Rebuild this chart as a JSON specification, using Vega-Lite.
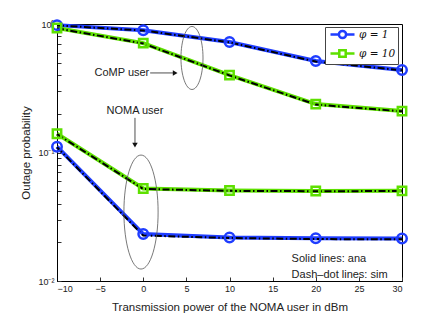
{
  "$schema": "https://vega.github.io/schema/vega-lite/v6.json",
  "width": 345,
  "height": 257,
  "autosize": {"type": "none"},
  "padding": {"left": 57, "top": 24, "right": 41, "bottom": 36},
  "background": "white",
  "config": {
    "view": {"stroke": "black", "strokeWidth": 1},
    "font": "Liberation Sans",
    "axis": {"grid": false, "domainColor": "black", "tickColor": "#333", "labelColor": "#222", "titleColor": "#222", "titleFontWeight": "normal", "labelFontSize": 9, "titleFontSize": 11.5, "tickSize": -4, "labelPadding": 7},
    "legend": {"title": null, "orient": "none", "legendX": 268, "legendY": 3, "fillColor": "white", "strokeColor": "#444", "padding": 2, "rowPadding": 1,
      "labelFont": "DejaVu Serif", "labelFontSize": 10.5, "labelColor": "#111", "labelFontStyle": "italic", "symbolSize": 64, "symbolStrokeWidth": 2.5,
      "symbolOffset": 10, "labelOffset": 11, "symbolFillColor": "transparent"}
  },
  "datasets": {
    "curves": [
      {"x": -10, "y": 0.98, "series": "phi1", "user": "CoMP", "kind": "ana"},
      {"x": 0, "y": 0.895, "series": "phi1", "user": "CoMP", "kind": "ana"},
      {"x": 10, "y": 0.725, "series": "phi1", "user": "CoMP", "kind": "ana"},
      {"x": 20, "y": 0.515, "series": "phi1", "user": "CoMP", "kind": "ana"},
      {"x": 30, "y": 0.438, "series": "phi1", "user": "CoMP", "kind": "ana"},
      {"x": -10, "y": 0.93, "series": "phi10", "user": "CoMP", "kind": "ana"},
      {"x": 0, "y": 0.71, "series": "phi10", "user": "CoMP", "kind": "ana"},
      {"x": 10, "y": 0.40, "series": "phi10", "user": "CoMP", "kind": "ana"},
      {"x": 20, "y": 0.238, "series": "phi10", "user": "CoMP", "kind": "ana"},
      {"x": 30, "y": 0.21, "series": "phi10", "user": "CoMP", "kind": "ana"},
      {"x": -10, "y": 0.111, "series": "phi1", "user": "NOMA", "kind": "ana"},
      {"x": 0, "y": 0.0232, "series": "phi1", "user": "NOMA", "kind": "ana"},
      {"x": 10, "y": 0.0218, "series": "phi1", "user": "NOMA", "kind": "ana"},
      {"x": 20, "y": 0.0215, "series": "phi1", "user": "NOMA", "kind": "ana"},
      {"x": 30, "y": 0.0214, "series": "phi1", "user": "NOMA", "kind": "ana"},
      {"x": -10, "y": 0.140, "series": "phi10", "user": "NOMA", "kind": "ana"},
      {"x": 0, "y": 0.0525, "series": "phi10", "user": "NOMA", "kind": "ana"},
      {"x": 10, "y": 0.0506, "series": "phi10", "user": "NOMA", "kind": "ana"},
      {"x": 20, "y": 0.0502, "series": "phi10", "user": "NOMA", "kind": "ana"},
      {"x": 30, "y": 0.0503, "series": "phi10", "user": "NOMA", "kind": "ana"},
      {"x": -10, "y": 0.975, "series": "phi1", "user": "CoMP", "kind": "sim"},
      {"x": 0, "y": 0.89, "series": "phi1", "user": "CoMP", "kind": "sim"},
      {"x": 10, "y": 0.72, "series": "phi1", "user": "CoMP", "kind": "sim"},
      {"x": 20, "y": 0.51, "series": "phi1", "user": "CoMP", "kind": "sim"},
      {"x": 30, "y": 0.436, "series": "phi1", "user": "CoMP", "kind": "sim"},
      {"x": -10, "y": 0.925, "series": "phi10", "user": "CoMP", "kind": "sim"},
      {"x": 0, "y": 0.705, "series": "phi10", "user": "CoMP", "kind": "sim"},
      {"x": 10, "y": 0.398, "series": "phi10", "user": "CoMP", "kind": "sim"},
      {"x": 20, "y": 0.236, "series": "phi10", "user": "CoMP", "kind": "sim"},
      {"x": 30, "y": 0.209, "series": "phi10", "user": "CoMP", "kind": "sim"},
      {"x": -10, "y": 0.110, "series": "phi1", "user": "NOMA", "kind": "sim"},
      {"x": 0, "y": 0.0226, "series": "phi1", "user": "NOMA", "kind": "sim"},
      {"x": 10, "y": 0.0216, "series": "phi1", "user": "NOMA", "kind": "sim"},
      {"x": 20, "y": 0.0212, "series": "phi1", "user": "NOMA", "kind": "sim"},
      {"x": 30, "y": 0.0211, "series": "phi1", "user": "NOMA", "kind": "sim"},
      {"x": -10, "y": 0.139, "series": "phi10", "user": "NOMA", "kind": "sim"},
      {"x": 0, "y": 0.0520, "series": "phi10", "user": "NOMA", "kind": "sim"},
      {"x": 10, "y": 0.0503, "series": "phi10", "user": "NOMA", "kind": "sim"},
      {"x": 20, "y": 0.0500, "series": "phi10", "user": "NOMA", "kind": "sim"},
      {"x": 30, "y": 0.0501, "series": "phi10", "user": "NOMA", "kind": "sim"}
    ]
  },
  "encoding": {
    "x": {"field": "x", "type": "quantitative", "scale": {"domain": [-10, 30], "nice": false},
      "axis": {"values": [-10, -5, 0, 5, 10, 15, 20, 25, 30], "title": "Transmission power of the NOMA user in dBm", "labelExpr": "replace(datum.label, '-', '−')", "titlePadding": 8}},
    "y": {"field": "y", "type": "quantitative", "scale": {"type": "log", "domain": [0.01, 1], "nice": false},
      "axis": {"values": [0.01, 0.02, 0.03, 0.04, 0.05, 0.06, 0.07, 0.08, 0.09, 0.1, 0.2, 0.3, 0.4, 0.5, 0.6, 0.7, 0.8, 0.9, 1],
        "labelExpr": "abs(datum.value - 1) < 1e-9 ? '10⁰' : abs(datum.value - 0.1) < 1e-9 ? '10⁻¹' : abs(datum.value - 0.01) < 1e-9 ? '10⁻²' : ''",
        "title": "Outage probability", "titlePadding": 6}}
  },
  "layer": [
    {
      "data": {"name": "curves"},
      "transform": [{"filter": "datum.kind === 'ana'"}],
      "mark": {"type": "line", "strokeWidth": 4},
      "encoding": {
        "color": {"field": "series", "type": "nominal", "scale": {"domain": ["phi1", "phi10"], "range": ["#1f3dff", "#5ee000"]},
          "legend": {"labelExpr": "datum.value === 'phi1' ? 'φ = 1' : 'φ = 10'"}},
        "detail": {"field": "user"}
      }
    },
    {
      "data": {"name": "curves"},
      "transform": [{"filter": "datum.kind === 'sim'"}],
      "mark": {"type": "line", "strokeWidth": 2, "color": "black", "strokeDash": [7, 2.5, 1.5, 2.5]},
      "encoding": {
        "detail": {"field": "series"},
        "strokeDash": {"field": "user", "legend": null, "scale": {"range": [[7, 2.5, 1.5, 2.5], [7, 2.5, 1.5, 2.5]]}}
      }
    },
    {
      "data": {"name": "curves"},
      "transform": [{"filter": "datum.kind === 'ana' && datum.series === 'phi1'"}],
      "mark": {"type": "point", "shape": "circle", "filled": false, "strokeWidth": 2.5, "size": 90, "opacity": 1, "color": "#1f3dff"}
    },
    {
      "data": {"name": "curves"},
      "transform": [{"filter": "datum.kind === 'ana' && datum.series === 'phi10'"}],
      "mark": {"type": "point", "shape": "square", "filled": false, "strokeWidth": 2.5, "size": 70, "opacity": 1, "color": "#5ee000"}
    },
    {
      "data": {"name": "curves"},
      "transform": [{"filter": "datum.kind === 'none'"}],
      "mark": {"type": "point", "filled": false, "strokeWidth": 2.5, "opacity": 1},
      "encoding": {
        "color": {"field": "series", "type": "nominal", "scale": {"domain": ["phi1", "phi10"], "range": ["#1f3dff", "#5ee000"]},
          "legend": {"labelExpr": "datum.value === 'phi1' ? 'φ = 1' : 'φ = 10'"}},
        "shape": {"field": "series", "type": "nominal", "scale": {"domain": ["phi1", "phi10"], "range": ["M-3,0L-0.9,0M0.9,0L3,0M0.9,0A0.9,0.9 0 1,1 -0.9,0A0.9,0.9 0 1,1 0.9,0", "M-3,0L-0.8,0M0.8,0L3,0M-0.8,-0.8H0.8V0.8H-0.8Z"]},
          "legend": {"labelExpr": "datum.value === 'phi1' ? 'φ = 1' : 'φ = 10'"}}
      }
    },
    {
      "data": {"values": [{"x": 5.65, "y": 0.544}]},
      "mark": {"type": "point", "shape": "M0,-1A0.35,1 0 1,1 0,1A0.35,1 0 1,1 0,-1Z", "size": 3969, "filled": false, "color": "#555", "strokeWidth": 0.8, "opacity": 1}
    },
    {
      "data": {"values": [{"x": -0.26, "y": 0.0344}]},
      "mark": {"type": "point", "shape": "M0,-1A0.3,1 0 1,1 0,1A0.3,1 0 1,1 0,-1Z", "size": 12996, "filled": false, "color": "#555", "strokeWidth": 0.8, "opacity": 1}
    },
    {
      "data": {"values": [{"x": 0.8, "x2": 3.6, "y": 0.416}]},
      "mark": {"type": "rule", "color": "#222", "strokeWidth": 0.8},
      "encoding": {"x2": {"field": "x2"}}
    },
    {
      "data": {"values": [{"x": 3.7, "y": 0.416}]},
      "mark": {"type": "point", "shape": "triangle-right", "filled": true, "color": "#111", "size": 30, "opacity": 1}
    },
    {
      "data": {"values": [{"x": -0.96, "y": 0.186, "y2": 0.118}]},
      "mark": {"type": "rule", "color": "#222", "strokeWidth": 0.8},
      "encoding": {"y2": {"field": "y2"}}
    },
    {
      "data": {"values": [{"x": -0.96, "y": 0.114}]},
      "mark": {"type": "point", "shape": "triangle-down", "filled": true, "color": "#111", "size": 30, "opacity": 1}
    },
    {
      "data": {"values": [
        {"x": 0.7, "y": 0.416, "label": "CoMP user", "a": "right"},
        {"x": -0.96, "y": 0.212, "label": "NOMA user", "a": "center"}
      ]},
      "mark": {"type": "text", "fontSize": 11, "color": "#222", "align": {"expr": "datum.a"}, "baseline": "middle"},
      "encoding": {"text": {"field": "label"}}
    },
    {
      "data": {"values": [
        {"x": 17.2, "y": 0.0148, "label": "Solid lines: ana"},
        {"x": 17.2, "y": 0.0111, "label": "Dash–dot lines: sim"}
      ]},
      "mark": {"type": "text", "fontSize": 11, "color": "#222", "align": "left", "baseline": "middle"},
      "encoding": {"text": {"field": "label"}}
    }
  ]
}
